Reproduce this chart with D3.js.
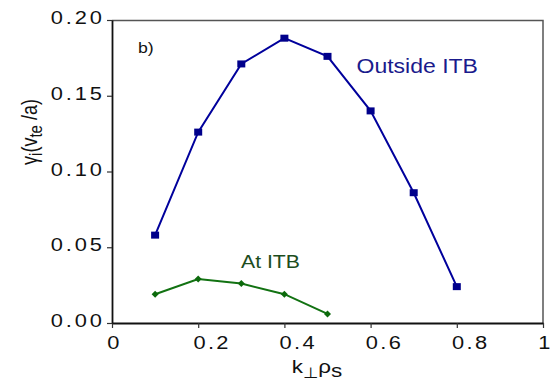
<!DOCTYPE html>
<html>
<head>
<meta charset="utf-8">
<script src="https://cdn.jsdelivr.net/npm/d3@7"></script>
<style>
  body { margin: 0; background: #fff; }
  text { font-family: Arial, "Liberation Sans", sans-serif; }
</style>
</head>
<body>
<div id="chart"></div>
<script>
// data
var kValues = [0.1, 0.2, 0.3, 0.4, 0.5, 0.6, 0.7, 0.8];
var outsideITB = [0.058, 0.126, 0.171, 0.188, 0.176, 0.140, 0.086, 0.024];
var kValuesITB = [0.1, 0.2, 0.3, 0.4, 0.5];
var atITB = [0.019, 0.029, 0.026, 0.019, 0.006];
var xTicks = [0, 0.2, 0.4, 0.6, 0.8, 1];
var yTicks = [0, 0.05, 0.10, 0.15, 0.20];

// the original figure is stretched sideways, text included
var stretch = 1.18;

var margin = { top: 20, right: 9, bottom: 66, left: 112 },
    width = 552 - margin.left - margin.right,
    height = 389 - margin.top - margin.bottom;

var svg = d3.select("#chart")
    .append("svg")
    .attr("width", 552)
    .attr("height", 389)
    .append("g")
    .attr("transform", "translate(" + margin.left + "," + margin.top + ")");

var x = d3.scaleLinear().domain([0, 1]).range([0, width]);
var y = d3.scaleLinear().domain([0, 0.2]).range([height, 0]);

// frame (top and right sides)
svg.append("path")
    .attr("d", "M0,0.5H" + width + "V" + height)
    .attr("fill", "none")
    .attr("stroke", "#555")
    .attr("stroke-width", 1.5);

// axes
var xAxis = svg.append("g")
    .attr("transform", "translate(0," + height + ")")
    .call(d3.axisBottom(x).tickValues(xTicks).tickSize(5).tickSizeOuter(0)
        .tickFormat(function (d) { return d === 0 || d === 1 ? d : d3.format(".1f")(d); }));
var yAxis = svg.append("g")
    .call(d3.axisLeft(y).tickValues(yTicks).tickSize(5).tickSizeOuter(0).tickFormat(d3.format(".2f")));

[xAxis, yAxis].forEach(function (a) {
    a.select(".domain").attr("stroke", "#111").attr("stroke-width", 1.8);
    a.selectAll(".tick line").attr("stroke", "#333").attr("stroke-width", 1.2);
    a.selectAll(".tick text").attr("fill", "#111").style("font-size", "18.5px");
});
xAxis.selectAll(".tick text")
    .attr("text-anchor", "start")
    .attr("x", -4.5)
    .attr("y", 8)
    .attr("dy", "0.95em")
    .attr("transform", "scale(" + stretch + ",1)")
    .style("letter-spacing", "2px");
yAxis.selectAll(".tick text")
    .attr("x", -6)
    .attr("dy", "0.2em")
    .attr("transform", "scale(" + stretch + ",1)")
    .style("letter-spacing", "2.5px");

// lines
var line = d3.line()
    .x(function (d) { return x(d[0]); })
    .y(function (d) { return y(d[1]); });

var outsideData = kValues.map(function (k, i) { return [k, outsideITB[i]]; });
var itbData = kValuesITB.map(function (k, i) { return [k, atITB[i]]; });

svg.append("path")
    .datum(outsideData)
    .attr("d", line)
    .attr("fill", "none")
    .attr("stroke", "#00009c")
    .attr("stroke-width", 2);

svg.selectAll("rect.outside")
    .data(outsideData)
    .enter()
    .append("rect")
    .attr("class", "outside")
    .attr("x", function (d) { return x(d[0]) - 4; })
    .attr("y", function (d) { return y(d[1]) - 3.5; })
    .attr("width", 8)
    .attr("height", 7)
    .attr("fill", "#00008b");

svg.append("path")
    .datum(itbData)
    .attr("d", line)
    .attr("fill", "none")
    .attr("stroke", "#127212")
    .attr("stroke-width", 2);

svg.selectAll("path.itb")
    .data(itbData)
    .enter()
    .append("path")
    .attr("class", "itb")
    .attr("transform", function (d) { return "translate(" + x(d[0]) + "," + y(d[1]) + ")"; })
    .attr("d", "M0,-3.5L3.5,0L0,3.5L-3.5,0Z")
    .attr("fill", "#0c6a0c");

// annotations
function label(px, py, size, color, str) {
    return svg.append("text")
        .attr("transform", "translate(" + px + "," + py + ") scale(" + stretch + ",1)")
        .style("font-size", size + "px")
        .attr("fill", color)
        .text(str);
}
label(26, 32.5, 15, "#111", "b)");
label(244.5, 52.5, 19.5, "#1a1a8c", "Outside ITB");
label(129, 247.5, 18, "#1d4d1d", "At ITB");

// axis titles
var xTitle = svg.append("text")
    .attr("transform", "translate(" + (317 - margin.left) + "," + (height + 50) + ") scale(" + stretch + ",1)")
    .attr("text-anchor", "middle")
    .style("font-size", "19px")
    .attr("fill", "#111");
xTitle.append("tspan").text("k");
xTitle.append("tspan").attr("dy", 5).style("font-size", "15px").text("⊥");
xTitle.append("tspan").attr("dy", -5).text("ρ");
xTitle.append("tspan").attr("dy", 4).style("font-size", "19px").text("s");

var yTitle = svg.append("text")
    .attr("transform", "translate(" + (37 - margin.left) + "," + (132 - margin.top) + ") rotate(-90) scale(1," + stretch + ")")
    .attr("text-anchor", "middle")
    .style("font-size", "18px")
    .attr("fill", "#111");
yTitle.append("tspan").text("γ");
yTitle.append("tspan").attr("dy", 4).style("font-size", "15px").text("i");
yTitle.append("tspan").attr("dy", -4).text("(v");
yTitle.append("tspan").attr("dy", 4).style("font-size", "15px").text("te");
yTitle.append("tspan").attr("dy", -4).text(" /a)");
</script>
</body>
</html>
